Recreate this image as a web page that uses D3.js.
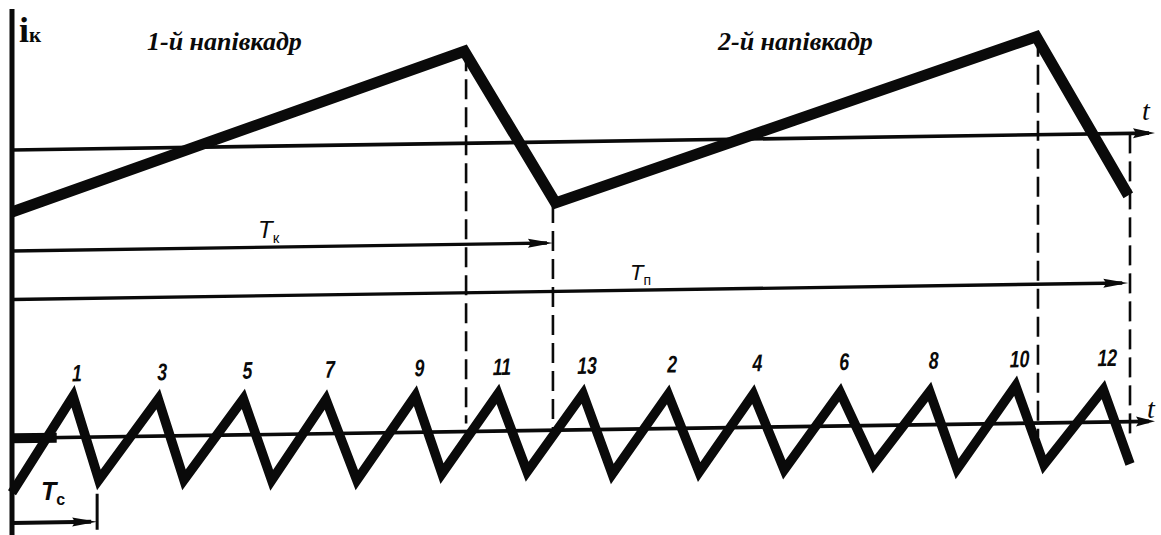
<!DOCTYPE html>
<html>
<head>
<meta charset="utf-8">
<script src="https://cdn.jsdelivr.net/npm/d3@7"></script>
<style>
  html, body { margin: 0; padding: 0; background: #fff; }
  svg { display: block; }
</style>
</head>
<body>
<svg id="chart" width="1161" height="535"></svg>
<script>
// Time is measured in line periods, currents in relative units.

// Frame (vertical) deflection current: two half-frames
const frameT = [0, 5.26, 6.32, 11.91, 12.98];
const frameI = [-0.62, 0.92, -0.61, 0.98, -0.62];

// Line (horizontal) deflection current: trace peaks and retrace troughs
const lineT = [0, 0.71, 1.01, 1.70, 2.00, 2.69, 3.02, 3.65, 4.01, 4.69, 5.00, 5.65, 5.99,
               6.64, 6.98, 7.63, 7.99, 8.62, 8.98, 9.63, 10.02, 10.67, 10.99, 11.67, 12.00, 12.69, 13.0];
const lineI = [-0.94, 0.71, -0.74, 0.64, -0.76, 0.62, -0.79, 0.59, -0.81, 0.63, -0.72, 0.64, -0.71,
               0.62, -0.77, 0.59, -0.76, 0.57, -0.74, 0.58, -0.67, 0.57, -0.77, 0.65, -0.72, 0.56, -0.73];

// Line numbers written above each trace peak (odd lines first, then even)
const lineNumbers = ["1", "3", "5", "7", "9", "11", "13", "2", "4", "6", "8", "10", "12"];

// Instants marked with dashed verticals (end of trace / end of retrace)
const markT = [5.28, 6.29, 11.93, 13.0];
const markFromI = [0.92, -0.61, 0.98, 0];      // on the frame current
const markToI = [0.14, 0, -0.24, -0.28];       // on the line current

// Period arrows
const periodNames = ["T", "T", "T"];
const periodSubs = ["к", "п", "с"];
const periodEndT = [6.29, 12.98, 0.99];

// Half-frame captions
const halfFrameLabels = ["1-й напівкадр", "2-й напівкадр"];

const W = 1161, H = 535;
const svg = d3.select("#chart");

const x = d3.scaleLinear().domain([0, 13]).range([12, 1130]);
const yFrame = d3.scaleLinear().domain([-1, 1]).range([250, 50]);
const yLine = d3.scaleLinear().domain([-1, 1]).range([496.3, 380.3]);

// the whole drawing leans slightly (about 0.85 degrees)
const lean = -0.852;
const leanTan = Math.tan(lean * Math.PI / 180);
const g = svg.append("g")
  .attr("transform", `translate(0,${-12 * leanTan}) skewY(${lean})`);

const ink = "#0a0a0a";
const arrowHead = (tx, ty, len, hw) =>
  `M${tx},${ty}L${tx - len},${ty - hw}L${tx - len + 3},${ty}L${tx - len},${ty + hw}Z`;

const xEnd = 1155;
const rowTk = 251, rowTp = 299.5, rowTs = 523;

// time axes
[[yFrame(0), 22, 5], [yLine(0), 19, 5]].forEach(([yy, len, hw]) => {
  g.append("line").attr("x1", x(0)).attr("x2", xEnd - 6).attr("y1", yy).attr("y2", yy)
    .attr("stroke", ink).attr("stroke-width", 3.6);
  g.append("path").attr("d", arrowHead(xEnd, yy, len, hw)).attr("fill", ink);
});

// thick stub on the lower axis at the start
g.append("line").attr("x1", x(0)).attr("x2", x(0.52)).attr("y1", yLine(0)).attr("y2", yLine(0))
  .attr("stroke", ink).attr("stroke-width", 10);

// period arrows
const rows = [rowTk, rowTp, rowTs];
periodEndT.forEach((t, i) => {
  const yy = rows[i];
  g.append("line").attr("x1", x(0)).attr("x2", x(t) - 6).attr("y1", yy).attr("y2", yy)
    .attr("stroke", ink).attr("stroke-width", i === 2 ? 4 : 3.4);
  g.append("path").attr("d", arrowHead(x(t), yy, 25, 4.5)).attr("fill", ink);
});
// end tick of the line period
g.append("line").attr("x1", x(periodEndT[2])).attr("x2", x(periodEndT[2]))
  .attr("y1", rowTs - 28).attr("y2", rowTs + 8)
  .attr("stroke", ink).attr("stroke-width", 3);

// dashed verticals
markT.forEach((t, i) => {
  g.append("line")
    .attr("x1", x(t)).attr("x2", x(t))
    .attr("y1", yFrame(markFromI[i])).attr("y2", yLine(markToI[i]))
    .attr("stroke", ink).attr("stroke-width", 2.6)
    .attr("stroke-dasharray", "20 8");
});

// frame sawtooth
const frameLine = d3.line().x(d => x(d[0])).y(d => yFrame(d[1]));
g.append("path")
  .attr("d", frameLine(d3.zip(frameT, frameI)))
  .attr("fill", "none").attr("stroke", ink).attr("stroke-width", 11)
  .attr("stroke-linejoin", "miter").attr("stroke-linecap", "butt");

// line sawtooth
const lineLine = d3.line().x(d => x(d[0])).y(d => yLine(d[1]));
g.append("path")
  .attr("d", lineLine(d3.zip(lineT, lineI)))
  .attr("fill", "none").attr("stroke", ink).attr("stroke-width", 9.5)
  .attr("stroke-linejoin", "miter").attr("stroke-miterlimit", 6).attr("stroke-linecap", "butt");

// line numbers above the peaks
const peakT = lineT.filter((d, i) => i % 2 === 1);
lineNumbers.forEach((n, i) => {
  g.append("text")
    .attr("transform", `translate(${x(peakT[i]) + 4},${438.3 - 56}) scale(0.74,1)`)
    .attr("text-anchor", "middle")
    .attr("font-family", "Liberation Sans, Arial, sans-serif")
    .attr("font-weight", "bold").attr("font-style", "italic")
    .attr("font-size", 24)
    .attr("fill", ink)
    .text(n);
});

// vertical axis
svg.append("line").attr("x1", 12).attr("x2", 12).attr("y1", 9).attr("y2", H)
  .attr("stroke", ink).attr("stroke-width", 5);

// axis names
svg.append("text").attr("x", 19).attr("y", 42)
  .attr("font-family", "Liberation Serif, serif").attr("font-weight", "bold")
  .attr("fill", ink)
  .call(t => {
    t.append("tspan").attr("font-size", 36).text("i");
    t.append("tspan").attr("font-size", 21).text("к");
  });
[[1142, 120], [1147, 418]].forEach(([tx, ty]) => {
  svg.append("text").attr("x", tx).attr("y", ty)
    .attr("font-family", "Liberation Serif, serif").attr("font-style", "italic")
    .attr("font-size", 28).attr("fill", ink).text("t");
});

// half-frame captions
[[147, 50], [718, 50]].forEach(([tx, ty], i) => {
  svg.append("text").attr("x", tx).attr("y", ty)
    .attr("font-family", "'Liberation Serif', 'Times New Roman', serif").attr("font-weight", "bold")
    .attr("font-style", "italic").attr("font-size", 26).attr("fill", ink)
    .text(halfFrameLabels[i]);
});

// period names
const periodPos = [[258, 238, 24, 15, "normal"], [630, 280, 22, 14, "normal"], [41, 500, 25, 16, "bold"]];
periodPos.forEach(([tx, ty, fs, ss, fw], i) => {
  svg.append("text").attr("x", tx).attr("y", ty)
    .attr("font-family", "Liberation Sans, Arial, sans-serif")
    .attr("font-style", "italic").attr("font-weight", fw).attr("fill", ink)
    .call(t => {
      t.append("tspan").attr("font-size", fs).text(periodNames[i]);
      t.append("tspan").attr("font-size", ss).attr("dy", 5).attr("font-style", "normal").text(periodSubs[i]);
    });
});
</script>
</body>
</html>
